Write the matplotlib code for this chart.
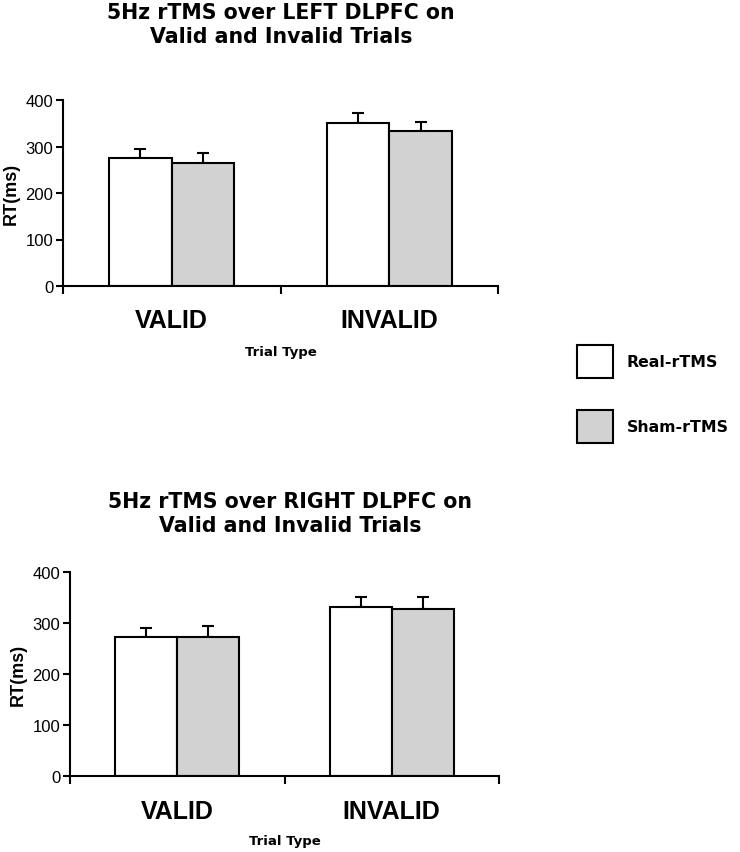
import matplotlib
matplotlib.use("Agg")
import matplotlib.pyplot as plt
import numpy as np

# data
categories = ["VALID", "INVALID"]
left_real = [275, 351]
left_real_err = [19, 22]
left_sham = [265, 333]
left_sham_err = [20, 20]
right_real = [273, 332]
right_real_err = [18, 19]
right_sham = [273, 329]
right_sham_err = [22, 22]

titles = ["5Hz rTMS over LEFT DLPFC on\nValid and Invalid Trials",
          "5Hz rTMS over RIGHT DLPFC on\nValid and Invalid Trials"]

sham_color = "#d2d2d2"
title_font = "DejaVu Sans"
arial = "Liberation Sans"

fig = plt.figure(figsize=(7.4, 8.53), dpi=100)
ax1 = fig.add_axes([63/740, 1-287/853, 435/740, 186/853])
ax2 = fig.add_axes([70/740, 1-777.3/853, 429/740, 204/853])

x = np.arange(len(categories))
w = 0.288

def draw(ax, real, real_err, sham, sham_err):
    b1 = ax.bar(x - w/2, real, w, color="white", edgecolor="black", linewidth=1.5,
                label="Real-rTMS", zorder=2)
    b2 = ax.bar(x + w/2, sham, w, color=sham_color, edgecolor="black", linewidth=1.5,
                label="Sham-rTMS", zorder=2)
    ax.errorbar(x - w/2, real, yerr=[np.zeros(len(real)), real_err], fmt="none",
                ecolor="black", elinewidth=1.5, capsize=4, capthick=1.5, zorder=1)
    ax.errorbar(x + w/2, sham, yerr=[np.zeros(len(sham)), sham_err], fmt="none",
                ecolor="black", elinewidth=1.5, capsize=4, capthick=1.5, zorder=1)
    ax.set_xlim(-0.5, 1.5)
    ax.set_ylim(0, 400)
    ax.set_yticks([0, 100, 200, 300, 400])
    ax.set_yticklabels(["0", "100", "200", "300", "400"], fontsize=12, family=arial)
    ax.set_xticks([-0.5, 0.5, 1.5])
    ax.set_xticklabels([])
    ax.set_xticks(x, minor=True)
    ax.set_xticklabels(categories, minor=True, fontsize=18, fontweight="bold", family=arial)
    ax.tick_params(axis="x", which="minor", length=0, pad=16)
    ax.tick_params(axis="x", which="major", length=6, width=1.5, direction="out")
    ax.tick_params(axis="y", length=5, width=1.5, pad=2)
    for s in ["top", "right"]:
        ax.spines[s].set_visible(False)
    ax.spines["left"].set_linewidth(1.5)
    ax.spines["bottom"].set_linewidth(1.5)
    ax.set_ylabel("RT(ms)", fontsize=13, fontweight="bold", family=arial, labelpad=4)
    return b1, b2

h1, h2 = draw(ax1, left_real, left_real_err, left_sham, left_sham_err)
draw(ax2, right_real, right_real_err, right_sham, right_sham_err)

fig.text(281/740, 1-25/853, titles[0], ha="center", va="center", fontsize=14.8,
         fontweight="heavy", family=title_font, linespacing=1.25)
fig.text(290/740, 1-514/853, titles[1], ha="center", va="center", fontsize=14.8,
         fontweight="heavy", family=title_font, linespacing=1.25)
fig.text(281/740, 1-353/853, "Trial Type", ha="center", va="center", fontsize=9.5,
         fontweight="bold", family=title_font)
fig.text(285/740, 1-842/853, "Trial Type", ha="center", va="center", fontsize=9.5,
         fontweight="bold", family=title_font)

fig.legend(handles=[h1, h2], labels=["Real-rTMS", "Sham-rTMS"], loc="upper left",
           bbox_to_anchor=(577/740, 1-346/853), frameon=False, borderpad=0,
           borderaxespad=0, handlelength=2.3, handleheight=2.9, labelspacing=2.0,
           handletextpad=0.85, prop={"family": title_font, "weight": "bold", "size": 11.3})

plt.savefig("out.png", dpi=100)
